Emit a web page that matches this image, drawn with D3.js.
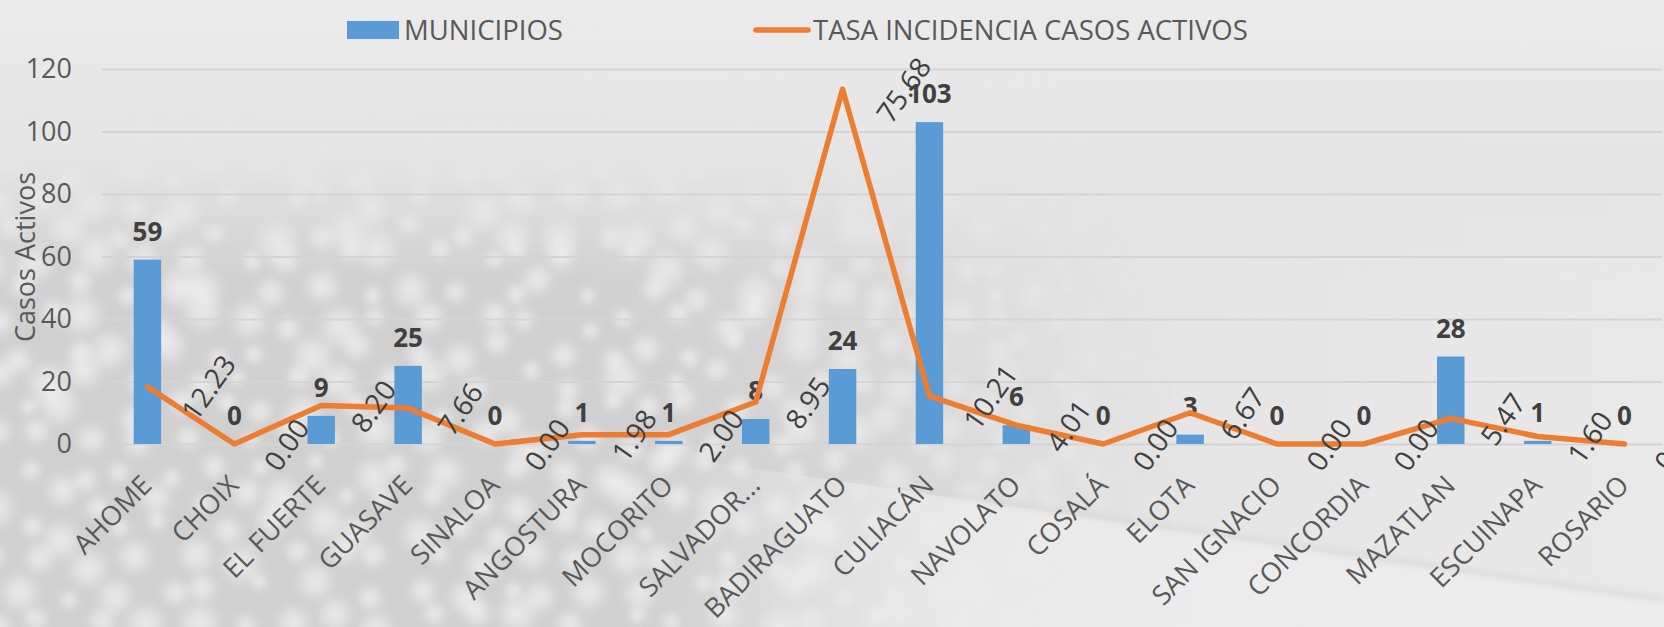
<!DOCTYPE html>
<html>
<head>
<meta charset="utf-8">
<script src="https://cdn.jsdelivr.net/npm/d3@7"></script>
<style>
  html, body { margin: 0; padding: 0; background: #e6e6e6; }
  svg { display: block; }
  text { font-family: "Open Sans", sans-serif; }
</style>
</head>
<body>
<div id="chart"></div>
<script>
const WIDTH = 1664;
const HEIGHT = 627;

// data
const municipios = ["AHOME", "CHOIX", "EL FUERTE", "GUASAVE", "SINALOA", "ANGOSTURA",
  "MOCORITO", "SALVADOR...", "BADIRAGUATO", "CULIACÁN", "NAVOLATO", "COSALÁ", "ELOTA",
  "SAN IGNACIO", "CONCORDIA", "MAZATLAN", "ESCUINAPA", "ROSARIO"];
const casosActivos = [59, 0, 9, 25, 0, 1, 1, 8, 24, 103, 6, 0, 3, 0, 0, 28, 1, 0];
const tasaIncidencia = [12.23, 0.00, 8.20, 7.66, 0.00, 1.98, 2.00, 8.95, 75.68, 10.21,
  4.01, 0.00, 6.67, 0.00, 0.00, 5.47, 1.60, 0.00];
const yTicks = [0, 20, 40, 60, 80, 100, 120];

const BAR_COLOR = "#5b9bd5";
const LINE_COLOR = "#ed7d31";
const TEXT_COLOR = "#595959";
const LABEL_COLOR = "#404040";
const GRID_COLOR = "#d4d4d4";

const PLOT_LEFT = 104;
const PLOT_RIGHT = 1668;
const PLOT_TOP = 69;
const PLOT_BOTTOM = 444;

const svg = d3.select("#chart").append("svg")
  .attr("width", WIDTH)
  .attr("height", HEIGHT);

// ---- background (gray template with bokeh in the lower left) ----
const defs = svg.append("defs");

const baseGrad = defs.append("linearGradient").attr("id", "base-grad")
  .attr("x1", 0).attr("y1", 0).attr("x2", 1).attr("y2", 0);
baseGrad.append("stop").attr("offset", "0%").attr("stop-color", "#dcdcdc");
baseGrad.append("stop").attr("offset", "50%").attr("stop-color", "#e3e3e3");
baseGrad.append("stop").attr("offset", "100%").attr("stop-color", "#e9e9e9");

const dotGrad = defs.append("radialGradient").attr("id", "dot-grad");
dotGrad.append("stop").attr("offset", "0%").attr("stop-color", "#ffffff").attr("stop-opacity", 0.6);
dotGrad.append("stop").attr("offset", "55%").attr("stop-color", "#ffffff").attr("stop-opacity", 0.3);
dotGrad.append("stop").attr("offset", "100%").attr("stop-color", "#ffffff").attr("stop-opacity", 0);

const maskGrad = defs.append("radialGradient").attr("id", "mask-grad")
  .attr("gradientUnits", "userSpaceOnUse")
  .attr("cx", 200).attr("cy", 600).attr("r", 1000);
maskGrad.append("stop").attr("offset", "0%").attr("stop-color", "#fff");
maskGrad.append("stop").attr("offset", "50%").attr("stop-color", "#fff");
maskGrad.append("stop").attr("offset", "100%").attr("stop-color", "#000");
defs.append("mask").attr("id", "bokeh-mask")
  .append("rect").attr("width", WIDTH).attr("height", HEIGHT).attr("fill", "url(#mask-grad)");

const topGrad = defs.append("linearGradient").attr("id", "top-grad")
  .attr("x1", 0).attr("y1", 0).attr("x2", 0).attr("y2", 1);
topGrad.append("stop").attr("offset", "0%").attr("stop-color", "#ebebeb").attr("stop-opacity", 1);
topGrad.append("stop").attr("offset", "25%").attr("stop-color", "#e6e6e6").attr("stop-opacity", 0.95);
topGrad.append("stop").attr("offset", "45%").attr("stop-color", "#e4e4e4").attr("stop-opacity", 0);

const swooshGrad = defs.append("linearGradient").attr("id", "swoosh-grad")
  .attr("x1", 0).attr("y1", 0).attr("x2", 1).attr("y2", 0);
swooshGrad.append("stop").attr("offset", "0%").attr("stop-color", "#ececec").attr("stop-opacity", 0);
swooshGrad.append("stop").attr("offset", "30%").attr("stop-color", "#ececec").attr("stop-opacity", 0.8);
swooshGrad.append("stop").attr("offset", "100%").attr("stop-color", "#ededed").attr("stop-opacity", 1);

defs.append("filter").attr("id", "soft")
  .append("feGaussianBlur").attr("stdDeviation", 3);

svg.append("rect").attr("width", WIDTH).attr("height", HEIGHT).attr("fill", "url(#base-grad)");

const bokeh = svg.append("g").attr("mask", "url(#bokeh-mask)");
bokeh.append("rect").attr("width", WIDTH).attr("height", HEIGHT).attr("fill", "#d0d0d0");
// decorative dot layout, spread with a fixed hash so it does not look like a grid
const hash = n => {
  const s = Math.sin(n * 12.9898) * 43758.5453;
  return s - Math.floor(s);
};
const dots = [];
for (let row = 0; row < 17; row++) {
  for (let col = 0; col < 28; col++) {
    const k = row * 28 + col;
    dots.push({
      x: col * 48 + (row % 2) * 24 + (hash(k) - 0.5) * 30,
      y: 140 + row * 30 + (hash(k + 500) - 0.5) * 22,
      r: 11 + hash(k + 1000) * 14
    });
  }
}
bokeh.append("g").attr("filter", "url(#soft)")
  .selectAll("circle").data(dots).enter().append("circle")
  .attr("cx", d => d.x).attr("cy", d => d.y).attr("r", d => d.r)
  .attr("fill", "url(#dot-grad)");

svg.append("rect").attr("width", WIDTH).attr("height", HEIGHT).attr("fill", "url(#top-grad)");

// lighter diagonal band at the bottom right
svg.append("path")
  .attr("d", "M640,452 L1664,602 L1664,627 L640,627 Z")
  .attr("fill", "url(#swoosh-grad)");
svg.append("path")
  .attr("d", "M900,487 L1664,600")
  .attr("stroke", "#d6d6d6").attr("stroke-width", 6).attr("opacity", 0.6)
  .attr("filter", "url(#soft)");

// ---- scales ----
const x = d3.scaleBand().domain(municipios).range([PLOT_LEFT, PLOT_RIGHT]);
const y = d3.scaleLinear().domain([0, 120]).range([PLOT_BOTTOM, PLOT_TOP]);
const y2 = d3.scaleLinear().domain([0, 80]).range([PLOT_BOTTOM, PLOT_TOP]);
const barWidth = x.bandwidth() * 0.316;
const cx = d => x(d) + x.bandwidth() / 2;

// ---- gridlines + y axis ----
const yAxis = d3.axisLeft(y).tickValues(yTicks).tickSize(-(WIDTH - PLOT_LEFT)).tickPadding(30);
const yAxisG = svg.append("g")
  .attr("transform", `translate(${PLOT_LEFT - 2},0)`)
  .call(yAxis);
yAxisG.select(".domain").remove();
yAxisG.selectAll(".tick line").attr("stroke", GRID_COLOR).attr("stroke-width", 2);
yAxisG.selectAll(".tick text")
  .attr("fill", TEXT_COLOR)
  .style("font-size", "27px");

svg.append("text")
  .attr("transform", `translate(35,257) rotate(-90)`)
  .attr("text-anchor", "middle")
  .attr("fill", TEXT_COLOR)
  .style("font-size", "27px")
  .text("Casos Activos");

// ---- x axis labels ----
const xAxis = d3.axisBottom(x).tickSize(0).tickPadding(0);
const xAxisG = svg.append("g")
  .attr("transform", `translate(0,${PLOT_BOTTOM})`)
  .call(xAxis);
xAxisG.select(".domain").remove();
xAxisG.selectAll(".tick text")
  .attr("fill", TEXT_COLOR)
  .style("font-size", "27px")
  .attr("text-anchor", "end")
  .attr("dy", 0)
  .attr("y", 0)
  .attr("transform", "translate(6,43) rotate(-45)");

// ---- bars ----
svg.append("g").selectAll("rect")
  .data(casosActivos)
  .enter().append("rect")
  .attr("x", (d, i) => cx(municipios[i]) - barWidth / 2)
  .attr("y", d => y(d))
  .attr("width", barWidth)
  .attr("height", d => PLOT_BOTTOM - y(d))
  .attr("fill", BAR_COLOR);

svg.append("g").selectAll("text")
  .data(casosActivos)
  .enter().append("text")
  .attr("x", (d, i) => cx(municipios[i]))
  .attr("y", d => y(d) - 19)
  .attr("text-anchor", "middle")
  .attr("fill", LABEL_COLOR)
  .style("font-size", "26px")
  .style("font-weight", "bold")
  .text(d => d);

// ---- line (secondary scale) ----
const line = d3.line()
  .x((d, i) => cx(municipios[i]))
  .y(d => y2(d));

svg.append("path")
  .datum(tasaIncidencia)
  .attr("d", line)
  .attr("fill", "none")
  .attr("stroke", LINE_COLOR)
  .attr("stroke-width", 5.5)
  .attr("stroke-linejoin", "round")
  .attr("stroke-linecap", "round");

const lineLabels = svg.append("g").selectAll("text")
  .data(tasaIncidencia)
  .enter().append("text")
  .attr("text-anchor", "middle")
  .attr("dy", "0.35em")
  .attr("fill", LABEL_COLOR)
  .style("font-size", "28px")
  .text(d => d.toFixed(2));
lineLabels.each(function (d, i) {
  const len = this.getComputedTextLength();
  const lx = cx(municipios[i]) + 22 + 0.55 * len;
  const ly = y2(d) + 1;
  d3.select(this).attr("transform", `translate(${lx},${ly}) rotate(-55)`);
});

// ---- legend ----
const legend = svg.append("g");
legend.append("rect")
  .attr("x", 347).attr("y", 21).attr("width", 52).attr("height", 18)
  .attr("fill", BAR_COLOR);
legend.append("text")
  .attr("x", 404).attr("y", 30).attr("dy", "0.35em")
  .attr("fill", TEXT_COLOR)
  .style("font-size", "27.5px")
  .text("MUNICIPIOS");
legend.append("line")
  .attr("x1", 756).attr("x2", 808).attr("y1", 30).attr("y2", 30)
  .attr("stroke", LINE_COLOR).attr("stroke-width", 5.5).attr("stroke-linecap", "round");
legend.append("text")
  .attr("x", 813).attr("y", 30).attr("dy", "0.35em")
  .attr("fill", TEXT_COLOR)
  .style("font-size", "27.5px")
  .text("TASA INCIDENCIA CASOS ACTIVOS");
</script>
</body>
</html>
